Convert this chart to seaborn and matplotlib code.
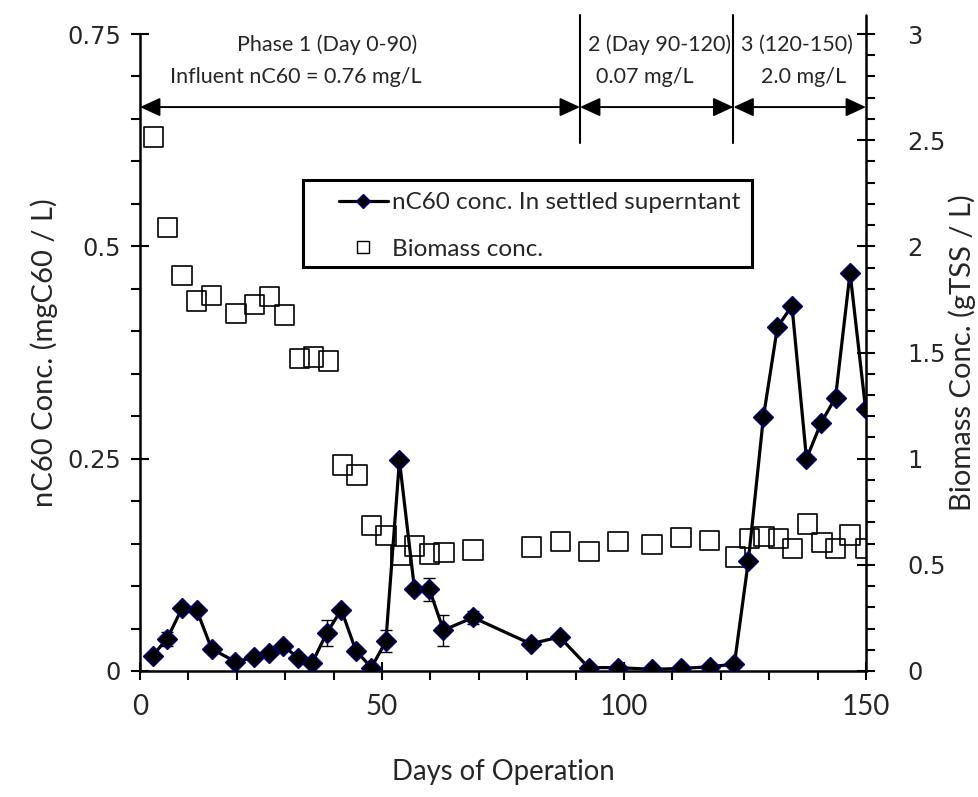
import numpy as np
import matplotlib
matplotlib.use("Agg")
import matplotlib.pyplot as plt
from matplotlib.lines import Line2D
from matplotlib.patches import Rectangle
from matplotlib.ticker import FixedLocator, MultipleLocator
import seaborn as sns

# ---------------- data ----------------
days_c60 = [2.6, 5.6, 8.7, 11.7, 14.8, 19.7, 23.6, 26.7, 29.6, 32.7,
            35.6, 38.6, 41.6, 44.6, 47.8, 50.8, 53.6, 56.7, 59.8, 62.7,
            68.8, 80.7, 86.7, 92.7, 98.7, 105.8, 111.8, 117.7, 122.8, 125.7,
            128.8, 131.7, 134.7, 137.7, 140.7, 143.7, 146.7, 149.9]
c60_conc = [0.018, 0.038, 0.074, 0.072, 0.026, 0.011, 0.016, 0.021, 0.030, 0.015,
            0.010, 0.045, 0.072, 0.024, 0.004, 0.035, 0.248, 0.097, 0.096, 0.048,
            0.063, 0.032, 0.040, 0.004, 0.004, 0.002, 0.003, 0.005, 0.008, 0.130,
            0.299, 0.405, 0.430, 0.250, 0.292, 0.322, 0.469, 0.309]
c60_err = [0.0, 0.008, 0.0, 0.0, 0.0, 0.0, 0.0, 0.0, 0.0, 0.0,
           0.0, 0.015, 0.0, 0.0, 0.0, 0.013, 0.0, 0.0, 0.014, 0.018,
           0.008, 0.0, 0.0, 0.0, 0.0, 0.0, 0.0, 0.0, 0.0, 0.0,
           0.0, 0.0, 0.0, 0.0, 0.0, 0.0, 0.0, 0.0]

days_bio = [2.75, 5.7, 8.7, 11.7, 14.8, 19.8, 23.7, 26.8, 29.9, 32.9,
            35.8, 38.9, 41.8, 44.8, 47.8, 50.8, 53.8, 56.7, 59.8, 62.8,
            68.8, 80.9, 86.9, 92.8, 98.8, 105.8, 111.8, 117.7, 123.0, 125.9,
            128.9, 131.9, 134.8, 137.9, 140.9, 143.7, 146.7, 149.9]
biomass = [2.514, 2.09, 1.862, 1.743, 1.768, 1.685, 1.727, 1.763, 1.677, 1.473,
           1.478, 1.460, 0.970, 0.923, 0.684, 0.637, 0.543, 0.589, 0.550, 0.559,
           0.570, 0.583, 0.609, 0.562, 0.609, 0.597, 0.630, 0.614, 0.536, 0.625,
           0.633, 0.625, 0.578, 0.692, 0.604, 0.578, 0.641, 0.578]

left_ticks = [0, 0.25, 0.5, 0.75]
left_ticklabels = ["0", "0.25", "0.5", "0.75"]
right_ticks = [0, 0.5, 1, 1.5, 2, 2.5, 3]
right_ticklabels = ["0", "0.5", "1", "1.5", "2", "2.5", "3"]
x_ticks = [0, 50, 100, 150]
x_ticklabels = ["0", "50", "100", "150"]

phase_bounds = [0, 90.9, 122.6, 150]
phase_titles = ["Phase 1 (Day 0-90)", "2 (Day 90-120)", "3 (120-150)"]
phase_doses = ["Influent nC60 = 0.76 mg/L", "0.07 mg/L", "2.0 mg/L"]

label_c60 = "nC60 conc. In settled superntant"
label_bio = "Biomass conc."

# ---------------- style ----------------
sns.set_style("white")
plt.rcParams['font.family'] = ['Lato', 'DejaVu Sans']
TXT = ['Lato', 'DejaVu Sans']

fig = plt.figure(figsize=(9.79, 7.97), dpi=100)
ax = fig.add_axes([0.1430, 0.1581, 0.8846 - 0.1430, 0.9573 - 0.1581])
ax2 = ax.twinx()
ax.set_zorder(ax2.get_zorder() + 1)
ax.patch.set_visible(False)

# biomass squares (right axis)
sns.scatterplot(x=days_bio, y=biomass, ax=ax2, marker='s', s=14.0 ** 2,
                fc='none', ec='black', linewidth=1.2, legend=False, zorder=2)

# nC60 line with diamonds (left axis)
err = np.array(c60_err)
mask = err > 0
ax.errorbar(np.array(days_c60)[mask], np.array(c60_conc)[mask], yerr=err[mask],
            fmt='none', ecolor='black', elinewidth=1.0, capsize=4, capthick=1.0, zorder=3)
sns.lineplot(x=days_c60, y=c60_conc, ax=ax, color='black', linewidth=2.3,
             marker='D', markersize=10.2, markerfacecolor='black',
             markeredgecolor='#000080', markeredgewidth=1.0,
             estimator=None, sort=False, zorder=4)

# axes limits and ticks
ax.set_xlim(0, 150)
ax.set_ylim(0, 0.75)
ax2.set_ylim(0, 3)

ax.xaxis.set_major_locator(FixedLocator(x_ticks))
ax.set_xticklabels(x_ticklabels)
ax.xaxis.set_minor_locator(MultipleLocator(10))
ax.yaxis.set_major_locator(FixedLocator(left_ticks))
ax.set_yticklabels(left_ticklabels)
ax.yaxis.set_minor_locator(MultipleLocator(0.05))
ax2.yaxis.set_major_locator(FixedLocator(right_ticks))
ax2.set_yticklabels(right_ticklabels)
ax2.yaxis.set_minor_locator(MultipleLocator(0.1))

for a in (ax, ax2):
    a.tick_params(which='major', direction='inout', length=13, width=1.5, color='black')
    a.tick_params(which='minor', direction='out', length=6.5, width=1.5, color='black')
ax.tick_params(axis='y', which='both', left=True, right=False, labelsize=17.4, pad=7)
ax.tick_params(axis='x', which='both', bottom=True, top=False, labelsize=20, pad=10)
ax2.tick_params(axis='y', which='both', right=True, left=False, labelsize=17.4, pad=23)
for t in ax.get_yticklabels() + ax2.get_yticklabels():
    t.set_fontfamily('DejaVu Sans')
for t in ax.get_xticklabels():
    t.set_fontfamily(TXT)

for s in ['top', 'right']:
    ax.spines[s].set_visible(False)
for s in ['top', 'left', 'bottom']:
    ax2.spines[s].set_visible(False)
for s in ['left', 'bottom']:
    ax.spines[s].set_linewidth(1.8)
    ax.spines[s].set_color('black')
ax2.spines['right'].set_linewidth(1.8)
ax2.spines['right'].set_color('black')

ax.set_xlabel("Days of Operation", fontsize=19.8, family=TXT, labelpad=28)
ax.set_ylabel("nC60 Conc. (mgC60 / L)", fontsize=21, family=TXT, labelpad=7)
ax2.set_ylabel("Biomass Conc. (gTSS / L)", fontsize=21, family=TXT, labelpad=2)

# phase annotations
y_arrow = 0.664
y_line_lo, y_line_hi = 0.6217, 0.7724
for xb in phase_bounds[1:3]:
    ax.plot([xb, xb], [y_line_lo, y_line_hi], color='black', lw=1.5, clip_on=False, zorder=5)
ax.plot([150, 150], [0.75, y_line_hi], color='black', lw=1.8, clip_on=False, zorder=5)
for x0, x1 in zip(phase_bounds[:-1], phase_bounds[1:]):
    ax.annotate('', xy=(x1, y_arrow), xytext=(x0, y_arrow),
                arrowprops=dict(arrowstyle='<|-|>,head_length=0.65,head_width=0.3',
                                color='black', lw=1.4, shrinkA=0, shrinkB=0,
                                mutation_scale=19), zorder=5, annotation_clip=False)

title_pos = [38.6, 107.4, 135.7]
dose_pos = [32.2, 104.3, 137.0]
for t, xt in zip(phase_titles, title_pos):
    ax.text(xt, 0.737, t, ha='center', va='center', fontsize=15.5, family=TXT, clip_on=False)
for t, xt in zip(phase_doses, dose_pos):
    ax.text(xt, 0.699, t, ha='center', va='center', fontsize=15.5, family=TXT, clip_on=False)

# legend with a drawn frame
frame = Rectangle((0.224, 0.634), 0.619, 0.137, transform=ax.transAxes,
                  facecolor='white', edgecolor='black', linewidth=2.2, zorder=8)
ax.add_patch(frame)
handles = [Line2D([], [], color='black', lw=2.3, marker='D', markersize=7,
                  markerfacecolor='black', markeredgecolor='#000080', markeredgewidth=1.0),
           Line2D([], [], color='none', marker='s', markersize=9,
                  markerfacecolor='none', markeredgecolor='black', markeredgewidth=1.0)]
leg = ax.legend(handles, [label_c60, label_bio], loc='upper left',
                bbox_to_anchor=(0.274, 0.752), frameon=False, borderpad=0,
                borderaxespad=0, handlelength=2.0, handletextpad=0.2,
                labelspacing=1.05, prop={'family': TXT, 'size': 17.5})
leg.set_zorder(9)

fig.savefig("out.png", dpi=100)
